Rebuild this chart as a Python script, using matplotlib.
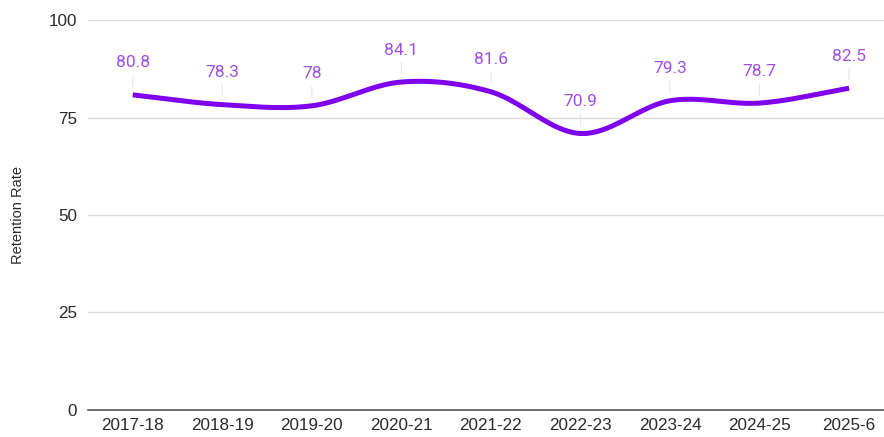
import numpy as np
import matplotlib.pyplot as plt

years = ['2017-18', '2018-19', '2019-20', '2020-21', '2021-22',
         '2022-23', '2023-24', '2024-25', '2025-6']
retention = [80.8, 78.3, 78, 84.1, 81.6, 70.9, 79.3, 78.7, 82.5]

line_col = '#7f00ec'
label_col = '#a04fe6'

fig = plt.figure(figsize=(8.84, 4.37), dpi=100)
ax = fig.add_axes([0.0995, 0.0618, 0.9005, 0.8924])

# smooth curve through the points (catmull-rom style hermite)
x = np.arange(len(retention), dtype=float)
y = np.array(retention, dtype=float)
m = np.zeros_like(y)
m[1:-1] = (y[2:] - y[:-2]) / 2
m[0] = y[1] - y[0]
m[-1] = y[-1] - y[-2]
xs, ys = [], []
for i in range(len(x) - 1):
    t = np.linspace(0, 1, 40)
    h00 = 2*t**3 - 3*t**2 + 1
    h10 = t**3 - 2*t**2 + t
    h01 = -2*t**3 + 3*t**2
    h11 = t**3 - t**2
    xs.extend(x[i] + t)
    ys.extend(h00*y[i] + h10*m[i] + h01*y[i+1] + h11*m[i+1])
ax.plot(xs, ys, color=line_col, lw=3.6, solid_capstyle='butt', zorder=3)

for i, v in enumerate(retention):
    lab = f'{v:g}'
    ax.annotate(lab, (i, v), xytext=(0, 23), textcoords='offset points',
                ha='center', va='center', color=label_col, fontsize=12.5,
                family='Roboto', zorder=4)
    ax.annotate('', (i, v), xytext=(0, 14), textcoords='offset points',
                arrowprops=dict(arrowstyle='-', color='#e6e6e6', lw=0.8,
                                shrinkA=0, shrinkB=6), zorder=2)

ax.set_xlim(-0.5, 8.39)
ax.set_ylim(0, 100)
ax.set_yticks([0, 25, 50, 75, 100])
ax.set_xticks(x)
ax.set_xticklabels(years)
ax.grid(axis='y', color='#d9d9d9', lw=1)
ax.set_axisbelow(True)
for s in ['top', 'right', 'left']:
    ax.spines[s].set_visible(False)
ax.spines['bottom'].set_color('#555555')
ax.spines['bottom'].set_linewidth(1.2)
ax.spines['bottom'].set_zorder(5)
ax.tick_params(axis='both', length=0, labelsize=12.3, colors='#2b2b2b',
               labelfontfamily='Liberation Sans')
ax.tick_params(axis='x', pad=6)
ax.tick_params(axis='y', pad=8)
ax.set_ylabel('Retention Rate', fontsize=10.5, color='#2b2b2b',
              family='Liberation Sans')
ax.yaxis.set_label_coords(-0.079, 0.5)

fig.savefig('out.png', dpi=100)
